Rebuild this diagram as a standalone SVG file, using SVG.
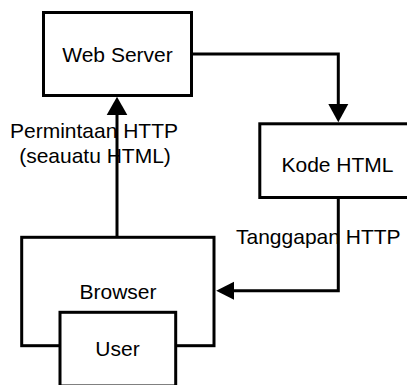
<svg xmlns="http://www.w3.org/2000/svg" width="407" height="385" viewBox="0 0 407 385">
  <style>
    .box { fill: #ffffff; stroke: #000000; stroke-width: 3; }
    .wire { fill: none; stroke: #000000; stroke-width: 3; }
    .head { fill: #000000; stroke: none; }
    text { font-family: "Liberation Sans", Arial, sans-serif; font-size: 21px; fill: #000000; text-anchor: middle; }
  </style>
  <rect width="407" height="385" fill="#ffffff"/>

  <g id="web-server">
    <rect class="box" x="43.5" y="12.5" width="148" height="83"/>
    <text x="117.5" y="61.8">Web Server</text>
  </g>

  <g id="kode-html">
    <rect class="box" x="259.8" y="123.8" width="157" height="73.7"/>
    <text x="337.5" y="171.8">Kode HTML</text>
  </g>

  <g id="browser">
    <rect class="box" x="21.7" y="237.3" width="192.3" height="108.4"/>
    <text x="118" y="298.5">Browser</text>
  </g>

  <g id="user">
    <rect class="box" x="60" y="312.3" width="115.7" height="73.7"/>
    <text x="117.5" y="355.5">User</text>
  </g>

  <g id="connectors">
    <!-- request label and arrow: Browser up to Web Server -->
    <text x="94" y="138.2">Permintaan HTTP</text>
    <text x="95" y="162.5">(seauatu HTML)</text>
    <line class="wire" x1="117" y1="237" x2="117" y2="112"/>
    <polygon class="head" points="117,96.8 106.7,115 127.3,115"/>

    <!-- Web Server to Kode HTML -->
    <polyline class="wire" points="193,54 338.3,54 338.3,106"/>
    <polygon class="head" points="338.3,122.3 328.3,104 348.3,104"/>

    <!-- response label and arrow: Kode HTML back to Browser -->
    <text x="318.3" y="244">Tanggapan HTTP</text>
    <polyline class="wire" points="338.3,199 338.3,290.7 232,290.7"/>
    <polygon class="head" points="216.2,290.7 234,281.7 234,299.7"/>
  </g>
</svg>
